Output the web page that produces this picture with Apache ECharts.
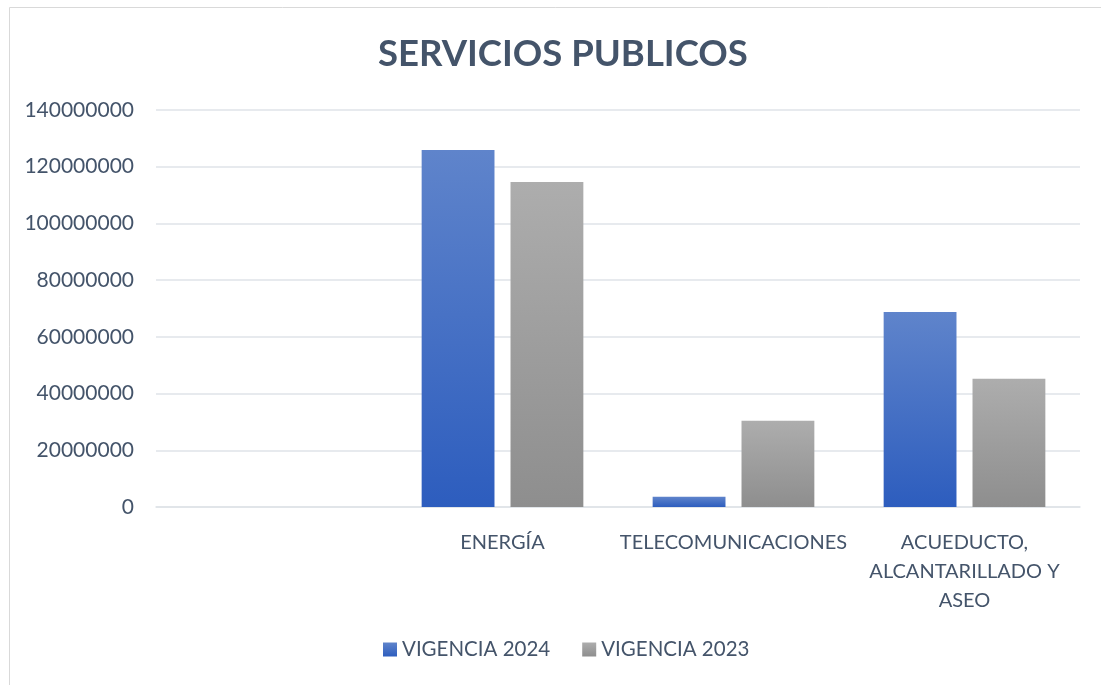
<!DOCTYPE html>
<html>
<head>
<meta charset="utf-8">
<script src="https://cdn.jsdelivr.net/npm/echarts@6/dist/echarts.min.js"></script>
<style>
html,body{margin:0;padding:0;background:#fff;}
#chart{width:1101px;height:685px;}
</style>
</head>
<body>
<div id="chart"></div>
<script>
const title = 'SERVICIOS PUBLICOS';
const categories = ['', 'ENERGÍA', 'TELECOMUNICACIONES', 'ACUEDUCTO,\nALCANTARILLADO Y\nASEO'];
const seriesNames = ['VIGENCIA 2024', 'VIGENCIA 2023'];
const vigencia2024 = [null, 125900000, 3600000, 68800000];
const vigencia2023 = [null, 114600000, 30400000, 45200000];
const yTicks = { min: 0, max: 140000000, interval: 20000000 };

const textColor = '#44546a';
const font = 'Lato, "Open Sans", sans-serif';
function grad(top, bottom) {
  return new echarts.graphic.LinearGradient(0, 0, 0, 1, [
    { offset: 0, color: top }, { offset: 1, color: bottom }
  ]);
}
const chart = echarts.init(document.getElementById('chart'), null, { renderer: 'canvas' });
chart.setOption({
  animation: false,
  backgroundColor: '#fff',
  textStyle: { fontFamily: font },
  graphic: [{
    type: 'rect', left: 7, top: 5,
    shape: { width: 1100, height: 690 },
    style: { fill: 'none', stroke: '#d9d9d9', lineWidth: 1 },
    silent: true
  }],
  title: {
    text: title, left: 373, top: 31,
    textStyle: { fontFamily: font, fontSize: 36.5, fontWeight: 'bold', color: textColor }
  },
  grid: { left: 156, right: 21, top: 110, bottom: 178 },
  legend: {
    data: seriesNames, bottom: 20, left: 378,
    icon: 'rect', itemWidth: 14, itemHeight: 14, itemGap: 32,
    textStyle: { fontFamily: font, fontSize: 20.5, color: textColor }
  },
  xAxis: {
    type: 'category', data: categories,
    axisLine: { show: true, lineStyle: { color: '#dfe3e8', width: 1.5 } },
    axisTick: { show: false },
    axisLabel: { interval: 0, color: textColor, fontFamily: font, fontSize: 20, margin: 21, lineHeight: 29, align: 'center' }
  },
  yAxis: {
    type: 'value', min: yTicks.min, max: yTicks.max, interval: yTicks.interval,
    axisLine: { show: false }, axisTick: { show: false },
    splitLine: { lineStyle: { color: '#dfe3e8', width: 1.5 } },
    axisLabel: { color: textColor, fontFamily: font, fontSize: 21, margin: 22, formatter: function (v) { return String(v); } }
  },
  series: [
    { name: seriesNames[0], type: 'bar', data: vigencia2024, barGap: '22%', barCategoryGap: '30%',
      itemStyle: { color: grad('#5f84cb', '#2d5dbe') } },
    { name: seriesNames[1], type: 'bar', data: vigencia2023,
      itemStyle: { color: grad('#adadad', '#8e8e8e') } }
  ]
});
</script>
</body>
</html>
